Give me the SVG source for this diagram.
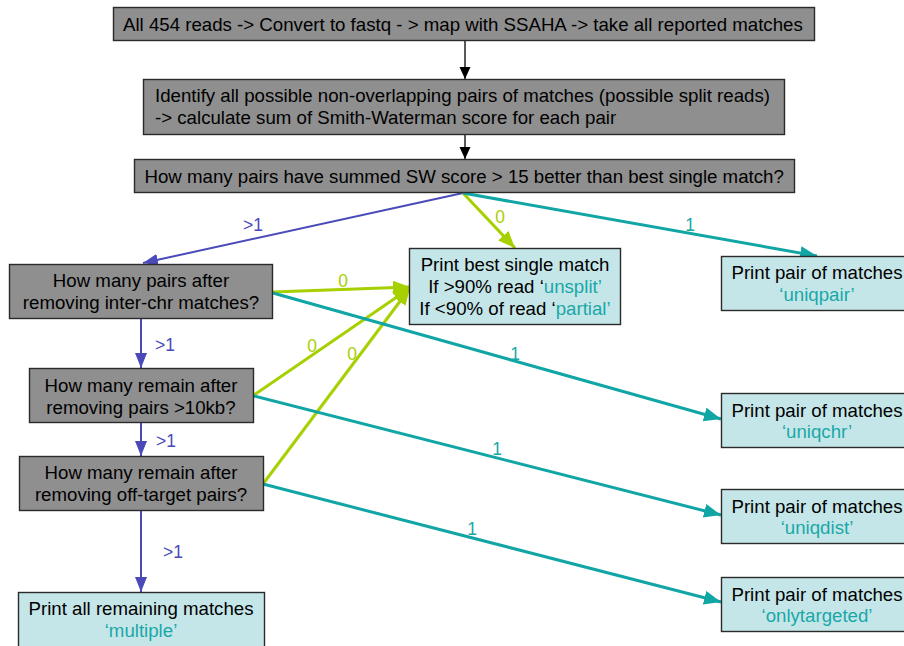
<svg xmlns="http://www.w3.org/2000/svg" width="904" height="646" viewBox="0 0 904 646">
<defs>
<style>
text{font-family:"Liberation Sans",Arial,sans-serif;font-size:18.67px;fill:#000}
.g rect{fill:#8f8f8f;stroke:#2a2a2a;stroke-width:1.4}
.c rect{fill:#c5e6e8;stroke:#2a2a2a;stroke-width:1.4}
.m{text-anchor:middle}
.q{fill:#19a8a8}
.lb{font-size:17.5px}
.lblue{fill:#4a4ab8}
.lgreen{fill:#a6d000}
.lteal{fill:#19a8a8}
.k{stroke:#000;stroke-width:1.3;fill:none}
.b{stroke:#4a4ab8;stroke-width:2;fill:none}
.gr{stroke:#a6d000;stroke-width:3;fill:none}
.t{stroke:#11a5a5;stroke-width:3;fill:none}
</style>
<marker id="ak" markerUnits="userSpaceOnUse" markerWidth="12" markerHeight="14" refX="12" refY="5.5" orient="auto"><path d="M0,0 L12,5.5 L0,11 z" fill="#000"/></marker>
<marker id="ab" markerUnits="userSpaceOnUse" markerWidth="16" markerHeight="14" refX="15" refY="6" orient="auto"><path d="M0,0 L15,6 L0,12 z" fill="#4a4ab8"/></marker>
<marker id="ag" markerUnits="userSpaceOnUse" markerWidth="18" markerHeight="16" refX="17" refY="7" orient="auto"><path d="M0,0 L17,7 L0,14 z" fill="#a6d000"/></marker>
<marker id="at" markerUnits="userSpaceOnUse" markerWidth="18" markerHeight="16" refX="17" refY="7" orient="auto"><path d="M0,0 L17,7 L0,14 z" fill="#11a5a5"/></marker>
</defs>

<g id="connectors">
<line class="k" x1="465" y1="41" x2="465" y2="79" marker-end="url(#ak)"/>
<line class="k" x1="465" y1="135" x2="465" y2="159" marker-end="url(#ak)"/>
<line class="b" x1="463" y1="193" x2="143" y2="263" marker-end="url(#ab)"/>
<line class="gr" x1="463" y1="193" x2="515" y2="248" marker-end="url(#ag)"/>
<line class="t" x1="463" y1="193" x2="817" y2="256" marker-end="url(#at)"/>
<line class="b" x1="141" y1="319" x2="141" y2="368" marker-end="url(#ab)"/>
<line class="b" x1="141" y1="423" x2="141" y2="456" marker-end="url(#ab)"/>
<line class="b" x1="141" y1="511" x2="141" y2="592" marker-end="url(#ab)"/>
<line class="gr" x1="273" y1="292" x2="410" y2="287" marker-end="url(#ag)"/>
<line class="gr" x1="254" y1="395" x2="410" y2="288" marker-end="url(#ag)"/>
<line class="gr" x1="263" y1="484" x2="410" y2="288" marker-end="url(#ag)"/>
<line class="t" x1="273" y1="293" x2="721" y2="419" marker-end="url(#at)"/>
<line class="t" x1="254" y1="396" x2="721" y2="515" marker-end="url(#at)"/>
<line class="t" x1="263" y1="484" x2="721" y2="602" marker-end="url(#at)"/>
<text class="lb lblue m" x="253" y="231">&gt;1</text>
<text class="lb lgreen m" x="500" y="223">0</text>
<text class="lb lteal m" x="690" y="231">1</text>
<text class="lb lgreen m" x="343" y="287">0</text>
<text class="lb lblue" x="155" y="351">&gt;1</text>
<text class="lb lgreen m" x="312" y="352">0</text>
<text class="lb lgreen m" x="352" y="360">0</text>
<text class="lb lteal m" x="515" y="360">1</text>
<text class="lb lblue" x="156" y="447">&gt;1</text>
<text class="lb lteal m" x="497" y="455">1</text>
<text class="lb lblue" x="163" y="558">&gt;1</text>
<text class="lb lteal m" x="472" y="535">1</text>
</g>

<g id="n1" class="g">
<rect x="113.5" y="7.5" width="701" height="33"/>
<text x="123" y="31">All 454 reads -&gt; Convert to fastq - &gt; map with SSAHA -&gt; take all reported matches</text>
</g>
<g id="n2" class="g">
<rect x="143.5" y="79.5" width="641" height="55"/>
<text x="155" y="102">Identify all possible non-overlapping pairs of matches (possible split reads)</text>
<text x="155" y="124">-&gt; calculate sum of Smith-Waterman score for each pair</text>
</g>
<g id="n3" class="g">
<rect x="134.5" y="159.5" width="660" height="33"/>
<text x="144.5" y="183">How many pairs have summed SW score &gt; 15 better than best single match?</text>
</g>
<g id="n4" class="g">
<rect x="9.5" y="264.5" width="263" height="54"/>
<text class="m" x="141" y="287">How many pairs after</text>
<text class="m" x="141" y="309">removing inter-chr matches?</text>
</g>
<g id="n5" class="c">
<rect x="409.5" y="248.5" width="211" height="76"/>
<text class="m" x="515" y="271">Print best single match</text>
<text class="m" x="515" y="293">If &gt;90% read ‘<tspan class="q">unsplit’</tspan></text>
<text class="m" x="515" y="315">If &lt;90% of read ‘<tspan class="q">partial’</tspan></text>
</g>
<g id="n6" class="c">
<rect x="721.5" y="256.5" width="200" height="54"/>
<text class="m" x="817" y="279">Print pair of matches</text>
<text class="m q" x="817" y="301">‘uniqpair’</text>
</g>
<g id="n7" class="g">
<rect x="29.5" y="368.5" width="224" height="54"/>
<text class="m" x="141" y="392">How many remain after</text>
<text class="m" x="141" y="414">removing pairs &gt;10kb?</text>
</g>
<g id="n8" class="c">
<rect x="721.5" y="393.5" width="200" height="54"/>
<text class="m" x="817" y="417">Print pair of matches</text>
<text class="m q" x="817" y="438">‘uniqchr’</text>
</g>
<g id="n9" class="g">
<rect x="19.5" y="456.5" width="244" height="54"/>
<text class="m" x="141" y="479">How many remain after</text>
<text class="m" x="141" y="501">removing off-target pairs?</text>
</g>
<g id="n10" class="c">
<rect x="721.5" y="489.5" width="200" height="54"/>
<text class="m" x="817" y="513">Print pair of matches</text>
<text class="m q" x="817" y="534">‘uniqdist’</text>
</g>
<g id="n11" class="c">
<rect x="721.5" y="577.5" width="200" height="54"/>
<text class="m" x="817" y="601">Print pair of matches</text>
<text class="m q" x="817" y="622">‘onlytargeted’</text>
</g>
<g id="n12" class="c">
<rect x="18.5" y="592.5" width="246" height="70"/>
<text class="m" x="141" y="615">Print all remaining matches</text>
<text class="m q" x="141" y="637">‘multiple’</text>
</g>
</svg>
